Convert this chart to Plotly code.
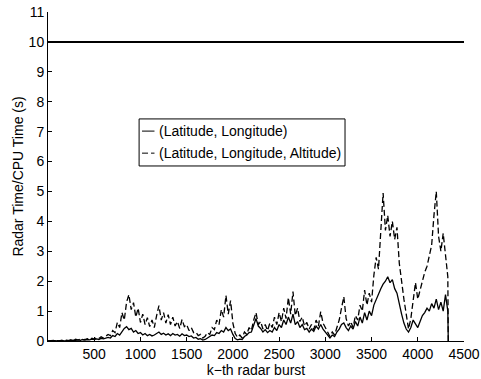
import plotly.graph_objects as go

# burst index of each sample (every 25th radar burst, last one at 4330)
burst = list(range(0, 4326, 25)) + [4330]

# processing-time ratio, 2-D tracking (Latitude, Longitude)
lat_lon = [
    0.00, 0.01, 0.00, 0.01, 0.00, 0.01, 0.02, 0.00, 0.01, 0.02,
    0.01, 0.03, 0.02, 0.04, 0.02, 0.05, 0.03, 0.05, 0.04, 0.06,
    0.05, 0.07, 0.05, 0.09, 0.07, 0.10, 0.12, 0.10, 0.18, 0.15,
    0.25, 0.20, 0.32, 0.42, 0.48, 0.38, 0.42, 0.30, 0.35, 0.25,
    0.28, 0.20, 0.25, 0.18, 0.22, 0.17, 0.20, 0.25, 0.30, 0.22,
    0.26, 0.20, 0.24, 0.18, 0.25, 0.20, 0.22, 0.16, 0.24, 0.18,
    0.20, 0.15, 0.17, 0.10, 0.12, 0.06, 0.08, 0.03, 0.05, 0.10,
    0.14, 0.20, 0.18, 0.28, 0.25, 0.35, 0.30, 0.45, 0.35, 0.40,
    0.22, 0.08, 0.04, 0.06, 0.05, 0.15, 0.20, 0.28, 0.30, 0.55,
    0.75, 0.50, 0.42, 0.30, 0.38, 0.28, 0.35, 0.30, 0.45, 0.35,
    0.55, 0.45, 0.70, 0.55, 0.80, 0.60, 0.90, 0.55, 0.65, 0.45,
    0.55, 0.38, 0.42, 0.30, 0.40, 0.32, 0.50, 0.40, 0.55, 0.40,
    0.30, 0.18, 0.10, 0.20, 0.15, 0.30, 0.40, 0.55, 0.60, 0.45,
    0.35, 0.50, 0.40, 0.65, 0.50, 0.80, 0.60, 0.95, 0.70, 1.00,
    0.85, 1.20, 1.40, 1.55, 1.75, 1.90, 2.00, 2.15, 1.95, 2.05,
    1.75, 1.60, 1.20, 0.90, 0.60, 0.40, 0.30, 0.45, 0.70, 0.55,
    0.45, 0.65, 0.85, 0.95, 1.10, 1.00, 1.25, 1.10, 1.40, 1.05,
    1.30, 1.00, 1.55, 1.00, 0.00,
]

# processing-time ratio, 3-D tracking (Latitude, Longitude, Altitude)
lat_lon_alt = [
    0.00, 0.01, 0.00, 0.02, 0.01, 0.00, 0.02, 0.01, 0.03, 0.01,
    0.04, 0.02, 0.06, 0.03, 0.07, 0.04, 0.05, 0.08, 0.04, 0.09,
    0.06, 0.11, 0.08, 0.14, 0.10, 0.17, 0.22, 0.18, 0.35, 0.28,
    0.62, 0.45, 0.95, 0.70, 1.30, 1.55, 1.05, 1.28, 0.80, 1.10,
    0.62, 0.90, 0.55, 0.78, 0.48, 0.70, 0.45, 0.85, 1.18, 0.70,
    0.95, 0.60, 0.88, 0.55, 0.80, 0.50, 0.65, 0.42, 0.72, 0.48,
    0.55, 0.35, 0.45, 0.28, 0.30, 0.18, 0.22, 0.10, 0.16, 0.28,
    0.22, 0.45, 0.38, 0.70, 0.55, 1.05, 0.80, 1.52, 0.90, 1.35,
    0.60, 0.25, 0.12, 0.20, 0.10, 0.30, 0.22, 0.45, 0.35, 0.70,
    0.95, 0.55, 0.65, 0.40, 0.55, 0.35, 0.60, 0.45, 0.80, 0.55,
    0.95, 0.65, 1.10, 0.75, 1.45, 0.90, 1.65, 0.85, 1.10, 0.65,
    0.80, 0.50, 0.62, 0.40, 0.55, 0.38, 0.70, 0.50, 0.98, 0.60,
    0.45, 0.25, 0.15, 0.30, 0.20, 0.45, 0.70, 1.10, 1.48, 0.75,
    0.50, 0.65, 0.45, 0.85, 0.70, 1.20, 1.00, 1.70, 1.20, 1.60,
    1.30, 2.20, 2.80, 2.40, 3.60, 4.95, 3.70, 4.20, 3.50, 4.00,
    3.40, 3.80, 2.60, 1.95, 1.40, 0.90, 0.40, 0.75, 1.30, 1.95,
    1.40, 1.70, 2.00, 2.30, 2.50, 2.90, 3.20, 4.20, 5.00, 3.50,
    3.00, 3.60, 2.80, 2.15, 0.00,
]

# real-time limit (radar time)
limit_x = [0, 4500]
limit_y = [10, 10]

x_ticks = [500, 1000, 1500, 2000, 2500, 3000, 3500, 4000, 4500]
y_ticks = list(range(0, 12))

series_names = ["(Latitude, Longitude)", "(Latitude, Longitude, Altitude)"]

FONT = "Liberation Sans, Arial, Helvetica, sans-serif"
FS = 14
DASH = "6px,3px"
LW = 1.3

fig = go.Figure()
fig.add_trace(go.Scatter(x=burst, y=lat_lon, mode="lines",
                         line=dict(color="black", width=LW),
                         name=series_names[0], showlegend=False))
fig.add_trace(go.Scatter(x=burst, y=lat_lon_alt, mode="lines",
                         line=dict(color="black", width=LW, dash=DASH),
                         name=series_names[1], showlegend=False))
fig.add_trace(go.Scatter(x=limit_x, y=limit_y, mode="lines",
                         line=dict(color="black", width=2),
                         showlegend=False, hoverinfo="skip"))

# boxed legend in the middle of the axes
box = dict(x0=0.219, x1=0.714, y0=0.532, y1=0.675)
rows_y = [0.638, 0.571]
fig.add_shape(type="rect", xref="paper", yref="paper", **box,
              line=dict(color="black", width=1), fillcolor="white", layer="above")
for name, yy, dash in zip(series_names, rows_y, ["solid", DASH]):
    fig.add_shape(type="line", xref="paper", yref="paper",
                  x0=0.226, x1=0.256, y0=yy, y1=yy,
                  line=dict(color="black", width=1, dash=dash), layer="above")
    fig.add_annotation(x=0.262, y=yy, xref="paper", yref="paper",
                       text=name, showarrow=False, xanchor="left", yanchor="middle",
                       font=dict(family=FONT, size=FS, color="black"))

axis_common = dict(showline=True, linecolor="black", linewidth=1,
                   ticks="inside", ticklen=4, tickcolor="black", tickwidth=1,
                   showgrid=False, zeroline=False, mirror=False, automargin=False,
                   tickfont=dict(family=FONT, size=FS, color="black"))

fig.update_layout(
    width=481, height=379,
    margin=dict(l=48, r=17, t=12, b=38, autoexpand=False),
    paper_bgcolor="white", plot_bgcolor="white",
    font=dict(family=FONT, size=FS, color="black"),
    xaxis=dict(range=[0, 4500], tickvals=x_ticks,
               title=dict(text="k\u2212th radar burst", standoff=0,
                          font=dict(family=FONT, size=FS)),
               **axis_common),
    yaxis=dict(range=[0, 11], tickvals=y_ticks,
               title=dict(text="Radar Time/CPU Time (s)", standoff=1,
                          font=dict(family=FONT, size=FS)),
               **axis_common),
)

fig.write_html("out.html")
